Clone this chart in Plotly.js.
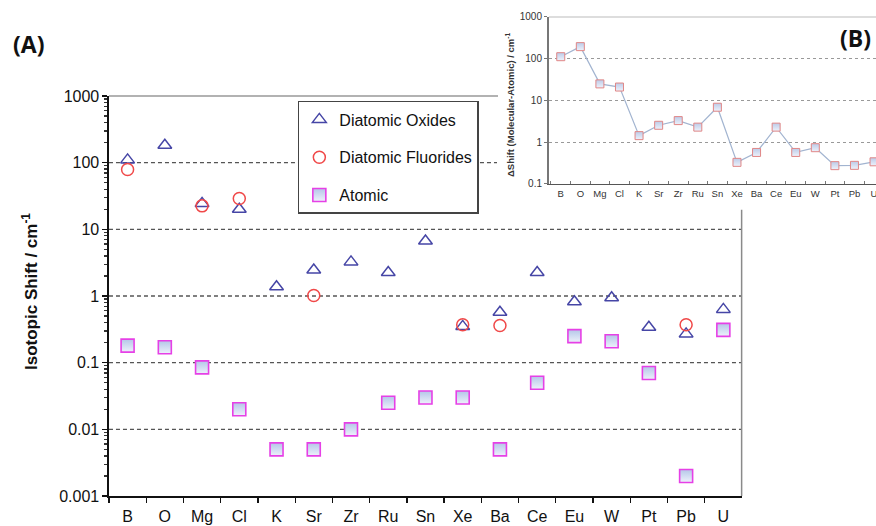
<!DOCTYPE html>
<html>
<head>
<meta charset="utf-8">
<script src="https://cdn.plot.ly/plotly-3.0.1.min.js"></script>
<style>html,body{margin:0;padding:0;background:#fff;}#chart{width:876px;height:526px;}</style>
</head>
<body>
<div id="chart"></div>
<script>
// Categories (elements)
const elements = ["B","O","Mg","Cl","K","Sr","Zr","Ru","Sn","Xe","Ba","Ce","Eu","W","Pt","Pb","U"];

// (A) Isotopic shifts / cm-1
const oxideShift = [110, 182, 24.5, 20, 1.38, 2.45, 3.25, 2.25, 6.7, 0.35, 0.57, 2.25, 0.82, 0.94, 0.34, 0.27, 0.63];
const fluorideElements = ["B","Mg","Cl","Sr","Xe","Ba","Pb"];
const fluorideShift = [79, 22.5, 29, 1.02, 0.37, 0.36, 0.37];
const atomicShift = [0.18, 0.17, 0.085, 0.02, 0.005, 0.005, 0.01, 0.025, 0.03, 0.03, 0.005, 0.05, 0.25, 0.21, 0.07, 0.002, 0.31];

// (B) Delta shift (Molecular - Atomic) / cm-1
const deltaShift = [112, 195, 25, 21, 1.44, 2.55, 3.3, 2.3, 6.9, 0.33, 0.57, 2.3, 0.57, 0.74, 0.275, 0.28, 0.34];

// Axis tick labels
const insetTickVals = [0.1, 1, 10, 100, 1000];
const insetTickText = ["0.1", "1", "10", "100", "1000"];
const gridDecades = [-2, -1, 0, 1];

const F = "Arial, 'Liberation Sans', sans-serif";

const traces = [
  {
    x: elements, y: oxideShift, type: "scatter", mode: "markers", name: "Diatomic Oxides",
    xaxis: "x", yaxis: "y", legendgroup: "a",
    marker: {symbol: "triangle-up-open", size: 12, color: "#4646a6", line: {width: 1.5, color: "#4646a6"}}
  },
  {
    x: fluorideElements, y: fluorideShift, type: "scatter", mode: "markers", name: "Diatomic Fluorides",
    xaxis: "x", yaxis: "y", legendgroup: "b",
    marker: {symbol: "circle-open", size: 12, color: "#f04848", line: {width: 1.5, color: "#f04848"}}
  },
  {
    x: elements, y: atomicShift, type: "scatter", mode: "markers", name: "Atomic",
    xaxis: "x", yaxis: "y", legendgroup: "c",
    marker: {symbol: "square", size: 13, color: "#b4c6e8",
             gradient: {type: "vertical", color: "#eef2fb"},
             line: {width: 1.6, color: "#e640e6"}}
  },
  {
    x: elements, y: deltaShift, type: "scatter", mode: "lines+markers", name: "ΔShift",
    xaxis: "x2", yaxis: "y2", showlegend: false,
    line: {color: "#a2b4d0", width: 1.2},
    marker: {symbol: "square", size: 8, color: "#bccbe8",
             gradient: {type: "vertical", color: "#eef2fb"},
             line: {width: 1, color: "#e08686"}}
  }
];

const shapes = [];
// main dashed gridlines
gridDecades.forEach(k => {
  shapes.push({type: "line", xref: "x domain", yref: "y domain", x0: 0, x1: 1,
    y0: (k + 3) / 6, y1: (k + 3) / 6, layer: "below",
    line: {color: "#555", width: 1.3, dash: "4px,3px"}});
});
// 100 gridline (stops at inset)
shapes.push({type: "line", xref: "x domain", yref: "y domain", x0: 0, x1: 0.613,
  y0: 5 / 6, y1: 5 / 6, layer: "below", line: {color: "#555", width: 1.3, dash: "4px,3px"}});
// main top border (stops at inset)
shapes.push({type: "line", xref: "paper", yref: "paper", x0: 0.1244, x1: 0.5685, y0: 0.8175, y1: 0.8175,
  line: {color: "#999", width: 1.5}});
// main right border (below inset)
shapes.push({type: "line", xref: "paper", yref: "paper", x0: 0.8466, x1: 0.8466, y0: 0.057, y1: 0.601,
  line: {color: "#8a8a8a", width: 1.5}});
// inset top border
shapes.push({type: "line", xref: "x2 domain", yref: "y2 domain", x0: 0, x1: 1, y0: 1, y1: 1,
  layer: "above", line: {color: "#bbb", width: 1.2}});

const layout = {
  width: 876, height: 526,
  margin: {l: 0, r: 0, t: 0, b: 0},
  paper_bgcolor: "#fff", plot_bgcolor: "rgba(0,0,0,0)",
  font: {family: F, color: "#111"},
  showlegend: true,
  legend: {
    x: 0.34, y: 0.808, xanchor: "left", yanchor: "top",
    bgcolor: "#fff", bordercolor: "#444", borderwidth: 1.5,
    font: {size: 16, family: F, color: "#111"},
    traceorder: "grouped", tracegroupgap: 14
  },
  xaxis: {
    domain: [0.1244, 0.847], anchor: "y",
    type: "category", categoryorder: "array", categoryarray: elements,
    range: [-0.5, 16.5],
    showline: true, linecolor: "#111", linewidth: 1.5,
    ticks: "outside", tickson: "boundaries", ticklen: 5, tickcolor: "#111", tickwidth: 1.3,
    ticklabelstandoff: 5,
    showgrid: false, zeroline: false,
    tickfont: {size: 16, family: F, color: "#111"}
  },
  yaxis: {
    domain: [0.057, 0.8175], anchor: "x",
    type: "log", range: [-3, 3],
    tickmode: "linear", tick0: 0, dtick: 1, exponentformat: "none",
    showline: true, linecolor: "#111", linewidth: 1.5,
    ticks: "outside", ticklen: 5, tickcolor: "#111", tickwidth: 1.3,
    minor: {ticks: "outside", ticklen: 3, tickcolor: "#333", dtick: "D1", showgrid: false},
    showgrid: false, zeroline: false,
    tickfont: {size: 16, family: F, color: "#111"}
  },
  xaxis2: {
    domain: [0.6267, 1], anchor: "y2",
    type: "category", categoryorder: "array", categoryarray: elements,
    range: [-0.6, 16.1],
    showline: true, linecolor: "#555", linewidth: 1.5,
    ticks: "inside", tickson: "boundaries", ticklen: 3, tickcolor: "#777",
    tickangle: 0,
    showgrid: false, zeroline: false,
    tickfont: {size: 9.5, family: F, color: "#333"}
  },
  yaxis2: {
    domain: [0.6502, 0.9677], anchor: "x2",
    type: "log", range: [-1, 3],
    tickmode: "array", tickvals: insetTickVals, ticktext: insetTickText,
    showline: true, linecolor: "#777", linewidth: 2,
    ticks: "outside", ticklen: 3, tickcolor: "#777",
    showgrid: true, gridcolor: "#999", gridwidth: 1, griddash: "dot",
    zeroline: false,
    tickfont: {size: 10, family: F, color: "#333"}
  },
  shapes: shapes,
  annotations: [
    {text: "(A)", xref: "paper", yref: "paper", x: 28 / 876, y: 1 - 44 / 526,
     xanchor: "center", yanchor: "middle", showarrow: false,
     font: {family: "'Open Sans', sans-serif", size: 23, color: "#111", weight: 700}},
    {text: "(B)", xref: "paper", yref: "paper", x: 855 / 876, y: 1 - 38 / 526,
     xanchor: "center", yanchor: "middle", showarrow: false,
     font: {family: "'Open Sans', sans-serif", size: 23, color: "#111", weight: 700}},
    {text: "<b>Isotopic Shift / cm<sup>-1</sup></b>", xref: "paper", yref: "paper", x: 30 / 876, y: 1 - 292 / 526,
     xanchor: "center", yanchor: "middle", textangle: -90, showarrow: false,
     font: {family: F, size: 17, color: "#111"}},
    {text: "<b>ΔShift (Molecular-Atomic) / cm<sup>-1</sup></b>", xref: "paper", yref: "paper", x: 510 / 876, y: 1 - 105 / 526,
     xanchor: "center", yanchor: "middle", textangle: -90, showarrow: false,
     font: {family: F, size: 9.5, color: "#333"}}
  ]
};

Plotly.newPlot("chart", traces, layout, {displayModeBar: false, staticPlot: true});
</script>
</body>
</html>
